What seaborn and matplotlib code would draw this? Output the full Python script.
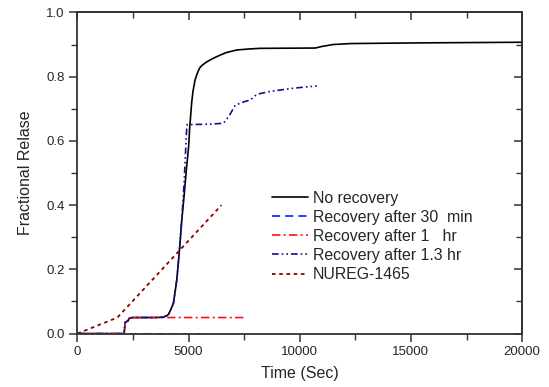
import matplotlib
matplotlib.use("Agg")
import matplotlib.pyplot as plt
from matplotlib.ticker import MultipleLocator
import seaborn as sns

# Time (s) and fractional release for each accident scenario
t_no_recovery = [0, 2100, 2150, 2280, 2330, 2500, 3000, 3500, 3850, 4000, 4100, 4200,
                 4320, 4470, 4590, 4690, 4800, 4900, 5000, 5050, 5140, 5200, 5290, 5370,
                 5450, 5520, 5620, 5720, 5820, 6000, 6200, 6420, 6700, 7170, 7700, 8200,
                 10700, 11000, 11500, 12300, 15300, 20000]
f_no_recovery = [0.0, 0.0, 0.035, 0.04, 0.048, 0.05, 0.05, 0.05, 0.051, 0.055, 0.06,
                 0.075, 0.095, 0.167, 0.26, 0.35, 0.43, 0.51, 0.58, 0.64, 0.72, 0.755,
                 0.789, 0.806, 0.82, 0.829, 0.836, 0.841, 0.846, 0.853, 0.86, 0.867,
                 0.875, 0.883, 0.886, 0.888, 0.889, 0.894, 0.9, 0.903, 0.905, 0.907]

t_rec_30min = [0, 1000, 2000, 3000, 4000, 5000, 5600]
f_rec_30min = [0.0, 0.0, 0.0, 0.0, 0.0, 0.0, 0.0]

t_rec_1hr = [0, 2100, 2150, 2280, 2330, 2500, 3000, 4000, 5000, 6000, 7000, 7620]
f_rec_1hr = [0.0, 0.0, 0.035, 0.04, 0.048, 0.05, 0.05, 0.05, 0.05, 0.05, 0.05, 0.05]

t_rec_13hr = [0, 2100, 2150, 2280, 2330, 2500, 3000, 3500, 3850, 4000, 4100, 4200,
              4320, 4470, 4590, 4690, 4800, 4900, 4930, 5200, 6000, 6570, 6800, 7100,
              7500, 7770, 8070, 8670, 9500, 10000, 10770]
f_rec_13hr = [0.0, 0.0, 0.035, 0.04, 0.048, 0.05, 0.05, 0.05, 0.051, 0.055, 0.06,
              0.075, 0.095, 0.167, 0.26, 0.35, 0.47, 0.62, 0.65, 0.651, 0.652, 0.655,
              0.675, 0.711, 0.722, 0.727, 0.745, 0.754, 0.762, 0.766, 0.771]

t_nureg = [0, 1800, 6480]
f_nureg = [0.0, 0.05, 0.40]

labels = ["No recovery", "Recovery after 30  min", "Recovery after 1   hr",
          "Recovery after 1.3 hr", "NUREG-1465"]

sns.set_style("ticks")
plt.rcParams["font.family"] = ["Liberation Sans", "DejaVu Sans"]

fig = plt.figure(figsize=(5.49, 3.87), dpi=100)
ax = fig.add_axes([0.141, 0.138, 0.810, 0.830])

series = [
    (t_no_recovery, f_no_recovery, "black", "-", 1.2),
    (t_rec_30min, f_rec_30min, "#1030ff", (0, (4.5, 2.8)), 1.3),
    (t_rec_1hr, f_rec_1hr, "#ff1010", (0, (5, 2, 1.2, 2)), 1.2),
    (t_rec_13hr, f_rec_13hr, "#101090", (0, (4, 1.8, 1, 1.8, 1, 1.8)), 1.2),
    (t_nureg, f_nureg, "#8b0000", (0, (2, 2)), 1.3),
]
for (t, f, c, ls, lw), lab in zip(series, labels):
    sns.lineplot(x=t, y=f, ax=ax, color=c, linestyle=ls, linewidth=lw,
                 label=lab, estimator=None, sort=False)

ax.set_xlim(0, 20000)
ax.set_ylim(0, 1.0)
ax.xaxis.set_major_locator(MultipleLocator(5000))
ax.xaxis.set_minor_locator(MultipleLocator(2500))
ax.yaxis.set_major_locator(MultipleLocator(0.2))
ax.yaxis.set_minor_locator(MultipleLocator(0.1))
ax.set_yticklabels([f"{v:.1f}" for v in ax.get_yticks()])

spine_color = "#333333"
for s in ax.spines.values():
    s.set_color(spine_color)
    s.set_linewidth(1.3)

ax.tick_params(which="major", direction="out", length=6, width=1.1,
               color=spine_color, labelsize=9.5, pad=3)
ax.tick_params(which="minor", direction="out", length=4, width=1.0,
               color=spine_color)

# Inward ticks on the top and right sides
top = ax.secondary_xaxis("top")
top.xaxis.set_major_locator(MultipleLocator(5000))
top.xaxis.set_minor_locator(MultipleLocator(2500))
top.tick_params(which="both", direction="in", labeltop=False, color=spine_color)
top.tick_params(which="major", length=6, width=1.1)
top.tick_params(which="minor", length=4, width=1.0)
top.spines["top"].set_color(spine_color)
top.spines["top"].set_linewidth(1.3)

right = ax.secondary_yaxis("right")
right.yaxis.set_major_locator(MultipleLocator(0.2))
right.yaxis.set_minor_locator(MultipleLocator(0.1))
right.tick_params(which="both", direction="in", labelright=False, color=spine_color)
right.tick_params(which="major", length=6, width=1.1)
right.tick_params(which="minor", length=4, width=1.0)
right.spines["right"].set_color(spine_color)
right.spines["right"].set_linewidth(1.3)

ax.set_xlabel("Time (Sec)", fontsize=11.5, labelpad=6)
ax.set_ylabel("Fractional Relase", fontsize=11.5, labelpad=10)

ax.legend(loc="upper left", bbox_to_anchor=(0.437, 0.445), frameon=False,
          fontsize=11.4, handlelength=2.3, handletextpad=0.3, labelspacing=0.26,
          borderpad=0, borderaxespad=0)

fig.savefig("out.png", dpi=100, facecolor="white")
